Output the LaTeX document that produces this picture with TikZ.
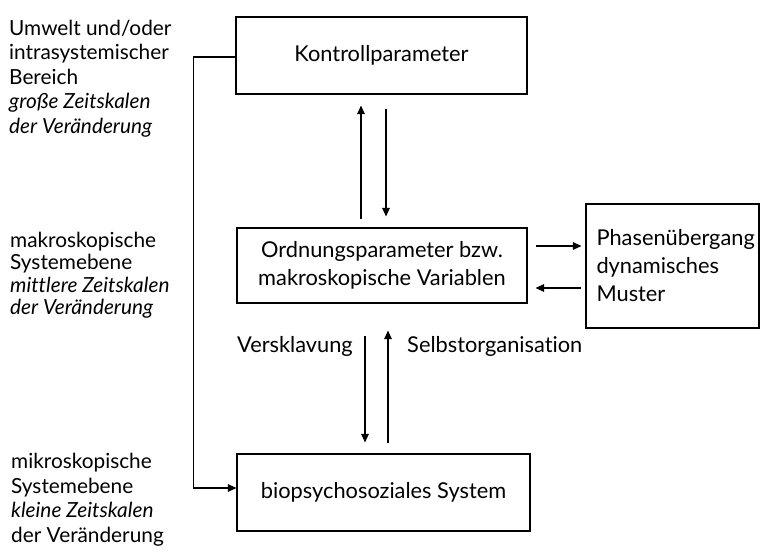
\documentclass[tikz,border=0pt]{standalone}
\usepackage{fontspec}
\setmainfont{Lato}[Ligatures=NoCommon]
\usetikzlibrary{arrows.meta}
\begin{document}
\begin{tikzpicture}[x=1pt,y=-1pt,
  box/.style={draw, line width=1.1pt, inner sep=0pt, font=\fontsize{21.8}{28}\selectfont, align=center},
  arr/.style={line width=1.1pt, -{Triangle[length=8.5pt,width=7.5pt]}},
  lbl/.style={inner sep=0pt, anchor=north west, align=left},
  txt/.style={inner sep=0pt, font=\fontsize{21.8}{28}\selectfont}]
\useasboundingbox (0,0) rectangle (762,554);
% boxes
\node[box, minimum width=291pt, minimum height=77pt] (K) at (381.5,55.5) {Kontrollparameter};
\node[box, minimum width=290pt, minimum height=75pt] (O) at (382,265.5) {Ordnungsparameter bzw.\\makroskopische Variablen};
\node[box, minimum width=293pt, minimum height=77pt] (B) at (383.5,492.5) {biopsychosoziales System};
\node[box, minimum width=173pt, minimum height=124pt, text width=152pt, inner xsep=10.5pt, align=left] (P) at (672.5,266) {Phasen\"ubergang\\dynamisches\\Muster};
% left labels
\node[lbl, font=\fontsize{20.8}{24.4}\selectfont] (L1) at (9,20) {Umwelt und/oder\\intrasystemischer\\Bereich\\\textit{gro\ss e Zeitskalen}\\\textit{der Ver\"anderung}};
\node[lbl, font=\fontsize{20.8}{22.3}\selectfont] (L2) at (10,232) {makroskopische\\Systemebene\\\textit{mittlere Zeitskalen}\\\textit{der Ver\"anderung}};
\node[lbl, font=\fontsize{20.8}{24.5}\selectfont] (L3) at (11,453) {mikroskopische\\Systemebene\\\textit{kleine Zeitskalen}\\der Ver\"anderung};
% arrows between K and O
\draw[arr] ([xshift=-21pt,yshift=8pt]O.north) -- ([xshift=-20.5pt,yshift=-11pt]K.south);
\draw[arr] ([xshift=4.5pt,yshift=-14pt]K.south) -- ([xshift=4pt,yshift=11pt]O.north);
% arrows between O and B
\draw[arr] ([xshift=-17pt,yshift=-32pt]O.south) -- ([xshift=-18.5pt,yshift=11pt]B.north);
\draw[arr] ([xshift=4.5pt,yshift=10pt]B.north) -- ([xshift=6pt,yshift=-27pt]O.south);
% arrows between O and P
\draw[arr] ([xshift=8pt,yshift=19.5pt]O.east) -- ([xshift=-4pt,yshift=20pt]P.west);
\draw[arr] ([xshift=-4pt,yshift=-22pt]P.west) -- ([xshift=8pt,yshift=-22.5pt]O.east);
% feedback line
\draw[arr] ([yshift=-1.5pt]K.west) -- ++(-42,0) |- ([yshift=4.5pt]B.west);
% arrow labels
\node[txt, anchor=base east] (vs) at (353,352) {Versklavung};
\node[txt, anchor=base west] (so) at (407,352) {Selbstorganisation};
\end{tikzpicture}
\end{document}
